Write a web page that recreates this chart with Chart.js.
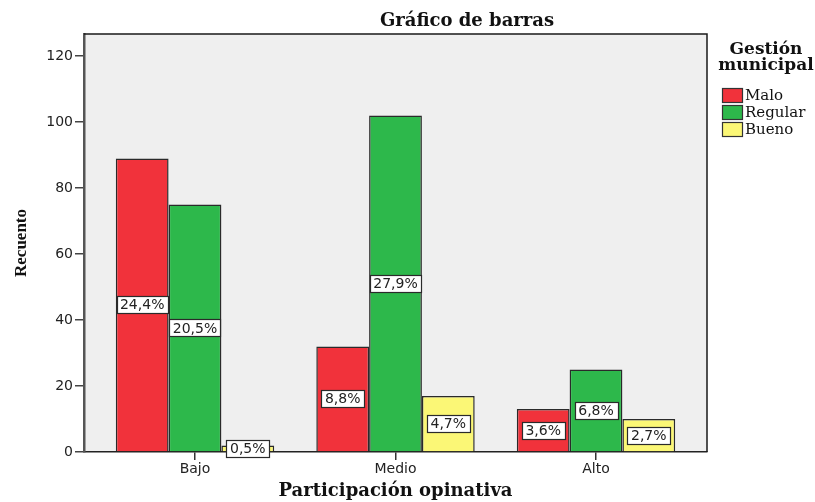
<!DOCTYPE html>
<html>
<head>
<meta charset="utf-8">
<script src="https://cdn.jsdelivr.net/npm/chart.js@4.4.1/dist/chart.umd.min.js"></script>
<style>
html, body { margin: 0; padding: 0; background: #fff; }
</style>
</head>
<body>
<canvas id="chart" width="815" height="502"></canvas>
<script>
// data
const categories = ['Bajo', 'Medio', 'Alto'];
const seriesNames = ['Malo', 'Regular', 'Bueno'];
const malo = [89, 32, 13];
const regular = [75, 102, 25];
const bueno = [2, 17, 10];
const maloPct = ['24,4%', '8,8%', '3,6%'];
const regularPct = ['20,5%', '27,9%', '6,8%'];
const buenoPct = ['0,5%', '4,7%', '2,7%'];
const yTicks = [0, 20, 40, 60, 80, 100, 120];

const colors = ['#f1323b', '#2db84b', '#fbf776'];
const seriesValues = [malo, regular, bueno];
const seriesPct = [maloPct, regularPct, buenoPct];

const serif = '"DejaVu Serif", serif';
const sans = '"DejaVu Sans", sans-serif';

// gray plot area + black frame on top/right
const plotFrame = {
    id: 'plotFrame',
    beforeDraw(chart) {
        const { ctx, chartArea: a } = chart;
        ctx.save();
        ctx.fillStyle = '#efefef';
        ctx.fillRect(a.left, a.top, a.right - a.left, a.bottom - a.top);
        ctx.restore();
    },
    afterDraw(chart) {
        const { ctx, chartArea: a } = chart;
        ctx.save();
        ctx.strokeStyle = '#1a1a1a';
        ctx.lineWidth = 1.5;
        ctx.beginPath();
        ctx.moveTo(a.left, a.top);
        ctx.lineTo(a.right, a.top);
        ctx.lineTo(a.right, a.bottom);
        ctx.stroke();
        ctx.restore();
    }
};

// white percentage boxes in the middle of each bar
const pctLabels = {
    id: 'pctLabels',
    afterDatasetsDraw(chart) {
        const ctx = chart.ctx;
        ctx.save();
        ctx.font = '14px ' + sans;
        ctx.textAlign = 'center';
        ctx.textBaseline = 'middle';
        chart.data.datasets.forEach((ds, i) => {
            const meta = chart.getDatasetMeta(i);
            meta.data.forEach((bar, j) => {
                const txt = seriesPct[i][j];
                const cy = (bar.y + bar.base) / 2;
                const w = Math.round(ctx.measureText(txt).width + 7);
                const h = 17;
                const x0 = Math.round(bar.x - w / 2) + 0.5;
                const y0 = Math.round(cy - h / 2) + 0.5;
                ctx.fillStyle = '#ffffff';
                ctx.fillRect(x0, y0, w, h);
                ctx.strokeStyle = '#2a2a2a';
                ctx.lineWidth = 1.2;
                ctx.strokeRect(x0, y0, w, h);
                ctx.fillStyle = '#222';
                ctx.fillText(txt, bar.x, cy + 1);
            });
        });
        ctx.restore();
    }
};

// title and legend drawn in SPSS position
const titleLegend = {
    id: 'titleLegend',
    afterDraw(chart) {
        const ctx = chart.ctx;
        ctx.save();
        ctx.fillStyle = '#111';
        ctx.textAlign = 'center';
        ctx.textBaseline = 'middle';
        ctx.font = 'bold 18px ' + serif;
        ctx.fillText('Gráfico de barras', 467, 21);

        ctx.font = 'bold 17px ' + serif;
        ctx.fillText('Gestión', 766, 50);
        ctx.fillText('municipal', 766, 66);

        ctx.textAlign = 'left';
        ctx.font = '15px ' + serif;
        seriesNames.forEach((name, i) => {
            const y = 88 + i * 17;
            ctx.fillStyle = colors[i];
            ctx.fillRect(722, y, 20, 14);
            ctx.strokeStyle = '#333';
            ctx.lineWidth = 1.2;
            ctx.strokeRect(722.5, y + 0.5, 20, 14);
            ctx.fillStyle = '#111';
            ctx.fillText(name, 745, y + 8);
        });
        ctx.restore();
    }
};

const ctx = document.getElementById('chart').getContext('2d');
new Chart(ctx, {
    type: 'bar',
    data: {
        datasets: seriesNames.map((name, i) => ({
            label: name,
            data: seriesValues[i].map((v, j) => ({ x: j, y: v })),
            backgroundColor: colors[i],
            borderColor: '#2a2a2a',
            borderWidth: 1.5,
            categoryPercentage: 0.79,
            barPercentage: 1,
        }))
    },
    options: {
        responsive: false,
        animation: false,
        layout: { padding: { top: 34, right: 108, left: 0, bottom: 0 } },
        plugins: {
            legend: { display: false },
            tooltip: { enabled: false },
            title: { display: false },
        },
        scales: {
            x: {
                type: 'linear',
                offset: false,
                min: -0.5536,
                max: 2.5536,
                afterBuildTicks: s => { s.ticks = categories.map((c, i) => ({ value: i })); },
                afterFit: s => { s.height = 50; },
                grid: { offset: false, drawOnChartArea: false, drawTicks: true, tickLength: 8, color: '#333', lineWidth: 1.5 },
                border: { color: '#222', width: 1.5 },
                ticks: {
                    color: '#222',
                    padding: 1,
                    font: { family: sans, size: 14 },
                    callback: v => categories[v],
                },
                title: {
                    display: true,
                    text: 'Participación opinativa',
                    color: '#111',
                    font: { family: serif, size: 18, weight: 'bold' },
                    padding: { top: 0, bottom: 0 },
                },
            },
            y: {
                min: 0,
                max: 126.7,
                afterBuildTicks: s => { s.ticks = yTicks.map(v => ({ value: v })); },
                afterFit: s => { s.width = 84; },
                grid: { drawOnChartArea: false, drawTicks: true, tickLength: 9, color: '#444', lineWidth: 1.5 },
                border: { color: '#555', width: 2.5 },
                ticks: {
                    color: '#222',
                    padding: 2,
                    font: { family: sans, size: 14 },
                },
                title: {
                    display: true,
                    text: 'Recuento',
                    color: '#111',
                    font: { family: '"Liberation Serif", serif', size: 17, weight: 'bold' },
                    padding: { top: 11, bottom: 0 },
                },
            },
        },
    },
    plugins: [plotFrame, pctLabels, titleLegend],
});
</script>
</body>
</html>
